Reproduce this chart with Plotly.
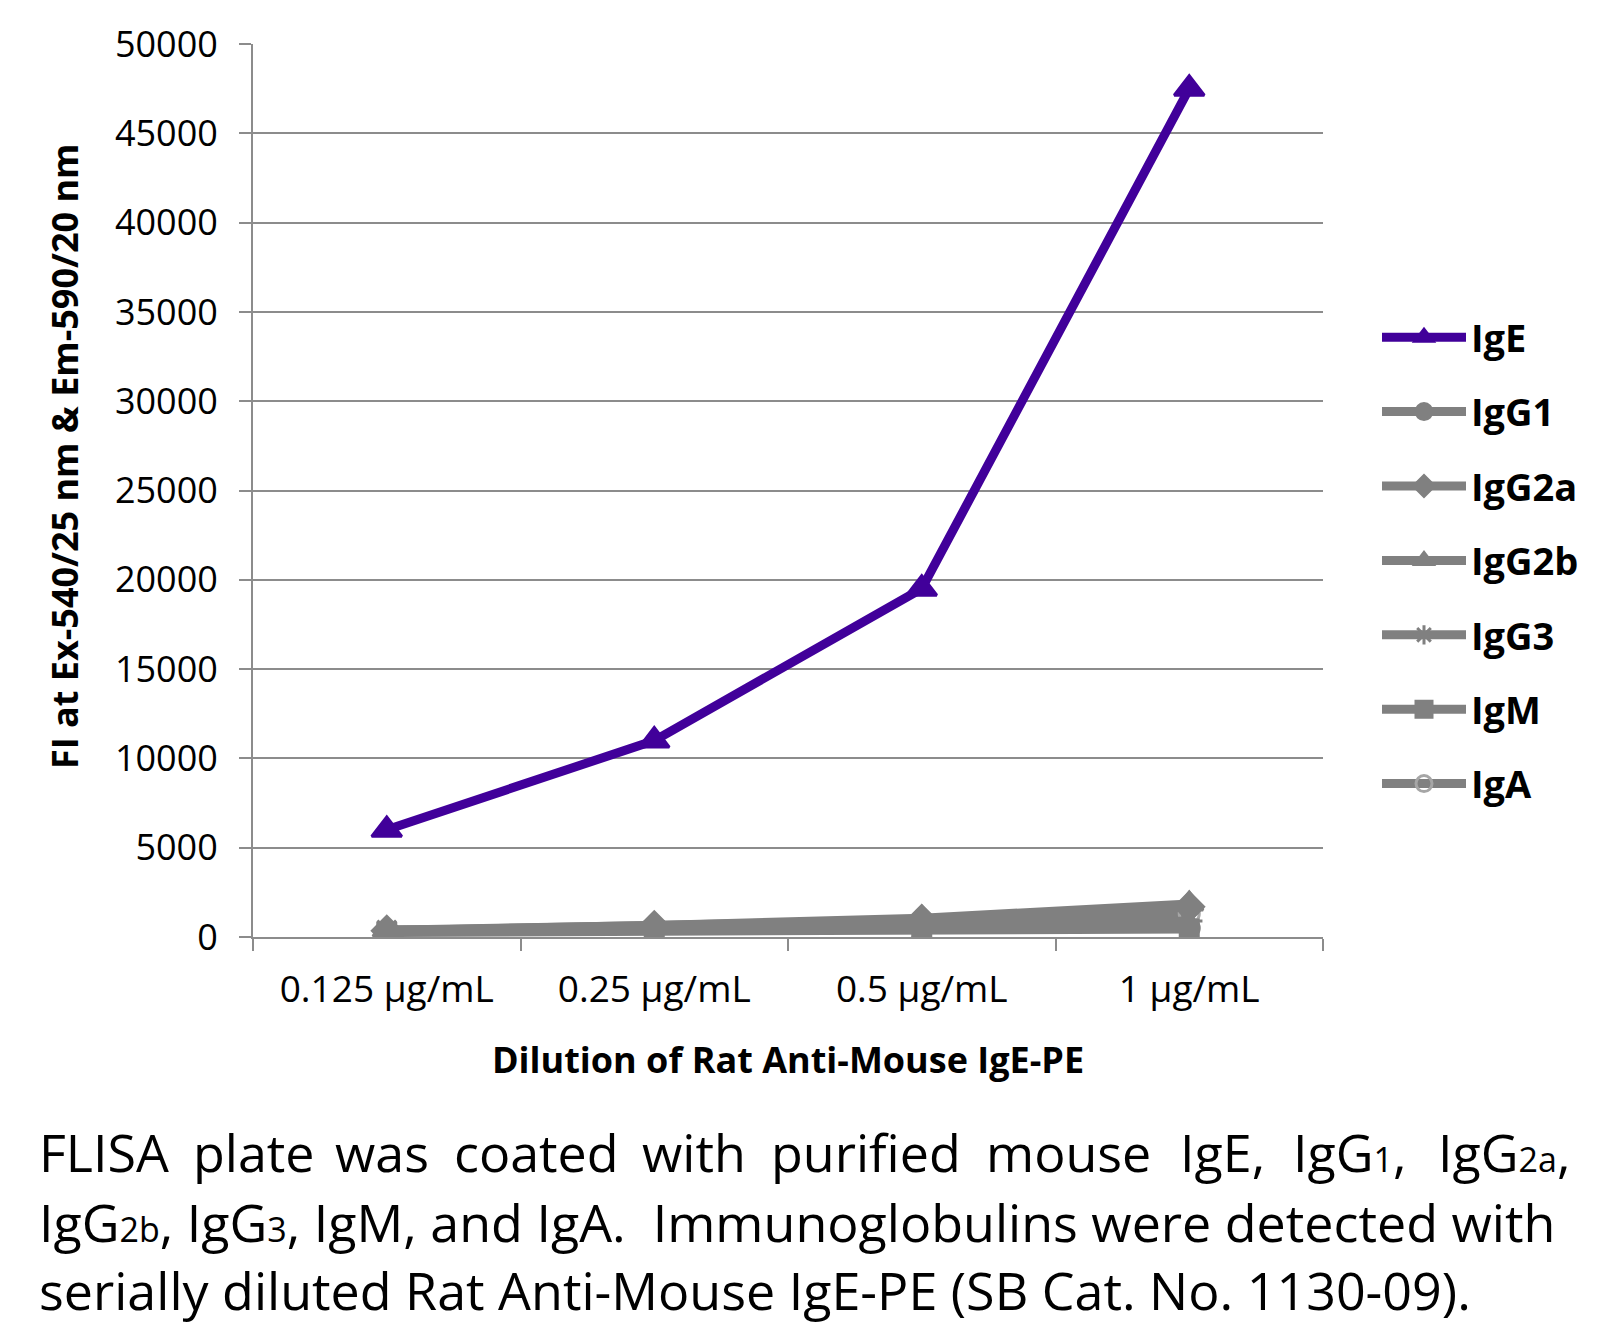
import plotly.graph_objects as go

categories = ["0.125 µg/mL", "0.25 µg/mL", "0.5 µg/mL", "1 µg/mL"]
IgE = [6000, 11000, 19500, 47500]
IgG1 = [300, 450, 600, 500]
IgG2a = [350, 600, 950, 1700]
IgG2b = [380, 650, 1050, 1850]
IgG3 = [400, 400, 500, 900]
IgM = [250, 350, 400, 450]
IgA = [300, 400, 600, 1300]

series_names = ["IgE", "IgG1", "IgG2a", "IgG2b", "IgG3", "IgM", "IgA"]
series_values = [IgE, IgG1, IgG2a, IgG2b, IgG3, IgM, IgA]
y_ticks = [0, 5000, 10000, 15000, 20000, 25000, 30000, 35000, 40000, 45000, 50000]

PURPLE = "#41009A"
GRAY = "#808080"
LIGHT = "#A6A6A6"
styles = {
    "IgE": dict(color=PURPLE, symbol="triangle-up", msize=26),
    "IgG1": dict(color=GRAY, symbol="circle", msize=20),
    "IgG2a": dict(color=GRAY, symbol="diamond", msize=22),
    "IgG2b": dict(color=GRAY, symbol="triangle-up", msize=24),
    "IgG3": dict(color=GRAY, symbol="asterisk-open", msize=22),
    "IgM": dict(color=GRAY, symbol="square", msize=18),
    "IgA": dict(color=LIGHT, symbol="circle-open", msize=20),
}
line_colors = {n: (PURPLE if n == "IgE" else GRAY) for n in series_names}

fig = go.Figure()
order = [6, 1, 2, 3, 4, 5, 0]
for i in order:
    name = series_names[i]
    s = styles[name]
    fig.add_trace(go.Scatter(
        x=categories, y=series_values[i], name=name, legendgroup=name,
        legendrank=i + 1,
        mode="lines+markers",
        line=dict(color=line_colors[name], width=9),
        marker=dict(symbol=s["symbol"], size=s["msize"], color=s["color"],
                    line=dict(color=s["color"], width=3)),
    ))

# page body has an 8px margin; work in window pixels and subtract it
OFF = 8
W, H = 1620 - OFF, 1328 - OFF
L, R, T, B = 253 - OFF, 1323 - OFF, 44 - OFF, 937 - OFF

def px(x):
    return (x - OFF - L) / (R - L)

def py(y):
    return (B - (y - OFF)) / (B - T)

cap_font = dict(family="Open Sans", size=52, color="black")
sub = "<span style='font-size:34px'>%s</span>"
line1_words = ["FLISA", "plate", "was", "coated", "with", "purified", "mouse", "IgE,",
               "IgG" + sub % "1" + ",", "IgG" + sub % "2a" + ","]
line1_x = [37, 254, 382, 536, 694, 866, 1068, 1222, 1350, 1572]
line1_anchor = ["left"] + ["center"] * 8 + ["right"]
annotations = []
for w, x, a in zip(line1_words, line1_x, line1_anchor):
    annotations.append(dict(text=w, x=px(x), y=py(1151), xref="paper", yref="paper",
                            xanchor=a, yanchor="middle", showarrow=False, font=cap_font))
line2 = ("IgG" + sub % "2b" + ", IgG" + sub % "3" + ", "
         "IgM, and IgA.  Immunoglobulins were detected with")
line3 = "serially diluted Rat Anti-Mouse IgE-PE (SB Cat. No. 1130-09)."
for t, y in [(line2, 1221), (line3, 1289)]:
    annotations.append(dict(text=t, x=px(37), y=py(y), xref="paper", yref="paper",
                            xanchor="left", yanchor="middle", showarrow=False, font=cap_font))

# y-axis title (placed off-centre as in the reference)
annotations.append(dict(text="<b>FI at Ex-540/25 nm & Em-590/20 nm</b>", textangle=-90,
                        x=px(64), y=py(457), xref="paper", yref="paper",
                        xanchor="center", yanchor="middle", showarrow=False,
                        font=dict(family="Open Sans", size=36, color="black")))

fig.update_layout(
    width=W, height=H,
    margin=dict(l=L, r=W - R, t=T, b=H - B, autoexpand=False),
    paper_bgcolor="white", plot_bgcolor="white",
    font=dict(family="Open Sans", color="black"),
    showlegend=True,
    legend=dict(x=px(1377), y=py(306), xanchor="left", yanchor="top",
                font=dict(family="Open Sans", size=38, color="black", weight="bold"),
                tracegroupgap=22, itemwidth=84, bgcolor="rgba(0,0,0,0)",
                traceorder="grouped"),
    xaxis=dict(
        type="category", categoryorder="array", categoryarray=categories,
        range=[-0.5, 3.5], showgrid=False, showline=True, linecolor="#8C8C8C", linewidth=2,
        ticks="outside", tickson="boundaries", ticklen=12, tickwidth=2, tickcolor="#8C8C8C",
        ticklabelstandoff=19, automargin=False,
        tickfont=dict(family="Open Sans", size=37, color="black"),
        title=dict(text="<b>Dilution of Rat Anti-Mouse IgE-PE</b>", standoff=35,
                   font=dict(family="Open Sans", size=36, color="black")),
    ),
    yaxis=dict(
        range=[0, 50000], tickvals=y_ticks, ticktext=[str(v) for v in y_ticks],
        showgrid=True, gridcolor="#8C8C8C", gridwidth=2,
        showline=True, linecolor="#8C8C8C", linewidth=2,
        ticks="outside", ticklen=12, tickwidth=2, tickcolor="#8C8C8C",
        ticklabelstandoff=14, automargin=False,
        tickfont=dict(family="Open Sans", size=36, color="black"),
        zeroline=False,
    ),
    annotations=annotations,
)

fig.write_html("out.html")
